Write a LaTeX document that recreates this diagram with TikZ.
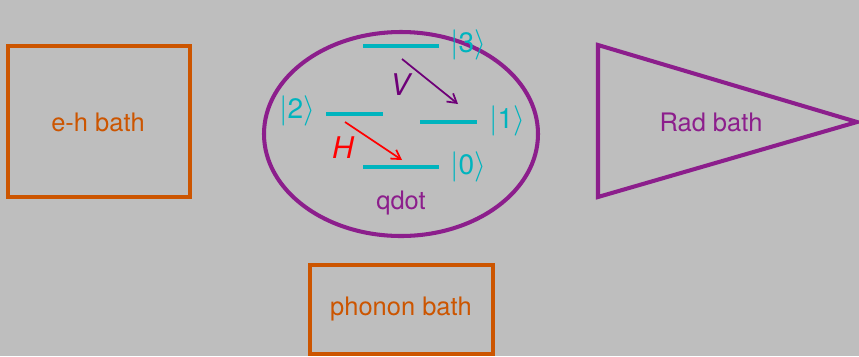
\documentclass[tikz,border=0pt]{standalone}
\usepackage{fontspec}
\setmainfont{TeX Gyre Heros}
\usetikzlibrary{arrows.meta}
\definecolor{BackClr}{RGB}{190,190,190}
\definecolor{BathClr}{RGB}{204,85,0}
\definecolor{DotClr}{RGB}{140,30,140}
\definecolor{LevelClr}{RGB}{0,180,190}
\definecolor{VClr}{RGB}{110,0,120}

\newcommand{\ketsym}[1]{$\left|\mbox{#1}\right\rangle$}

\tikzset{
  txt/.style={inner sep=0pt,font=\fontsize{14.5}{17}\selectfont},
  ket/.style={inner sep=0pt,text=LevelClr,font=\fontsize{16}{19}\selectfont},
  level/.style={LevelClr,line width=2.3pt},
  trans/.style={line width=1pt,-{Straight Barb[length=5pt,width=6pt]}}
}

\begin{document}
\begin{tikzpicture}[x=0.02cm,y=-0.02cm]
\fill[BackClr] (0,0) rectangle (859,356);
\useasboundingbox (0,0) rectangle (859,356);

% baths
\draw[BathClr,line width=2.3pt] (8,46) rectangle (190,197);
\node[txt,text=BathClr] (ehbath) at (98,122) {e-h bath};

\draw[BathClr,line width=2.3pt] (310,265) rectangle (493,354);
\node[txt,text=BathClr] (phbath) at (401,309) {phonon bath};

\draw[DotClr,line width=2.3pt,line join=miter] (598,45) -- (857,122) -- (598,197) -- cycle;
\node[txt,text=DotClr] (radbath) at (711,122) {Rad bath};

% quantum dot
\draw[DotClr,line width=2.3pt] (401,134) ellipse [x radius=137,y radius=102];
\node[txt,text=DotClr] (qdot) at (401,203) {qdot};

% levels
\draw[level] (363,46) -- (439,46);
\draw[level] (326,114) -- (383,114);
\draw[level] (420,122) -- (477,122);
\draw[level] (363,167) -- (439,167);
\node[ket] (k3) at (468,45) {\ketsym{3}};
\node[ket] (k2) at (297,111) {\ketsym{2}};
\node[ket] (k1) at (507,121) {\ketsym{1}};
\node[ket] (k0) at (468,167) {\ketsym{0}};

% transitions
\coordinate (vs) at (402,59);
\coordinate (ve) at (458,104);
\coordinate (hs) at (345,122);
\coordinate (he) at (402,160);
\draw[trans,VClr] (vs) -- (ve);
\draw[trans,red] (hs) -- (he);
\node[inner sep=0pt,text=VClr,font=\fontsize{17}{20}\selectfont\itshape] (vlab) at (400,85) {V};
\node[inner sep=0pt,text=red,font=\fontsize{17}{20}\selectfont\itshape] (hlab) at (343,148) {H};

\end{tikzpicture}
\end{document}
